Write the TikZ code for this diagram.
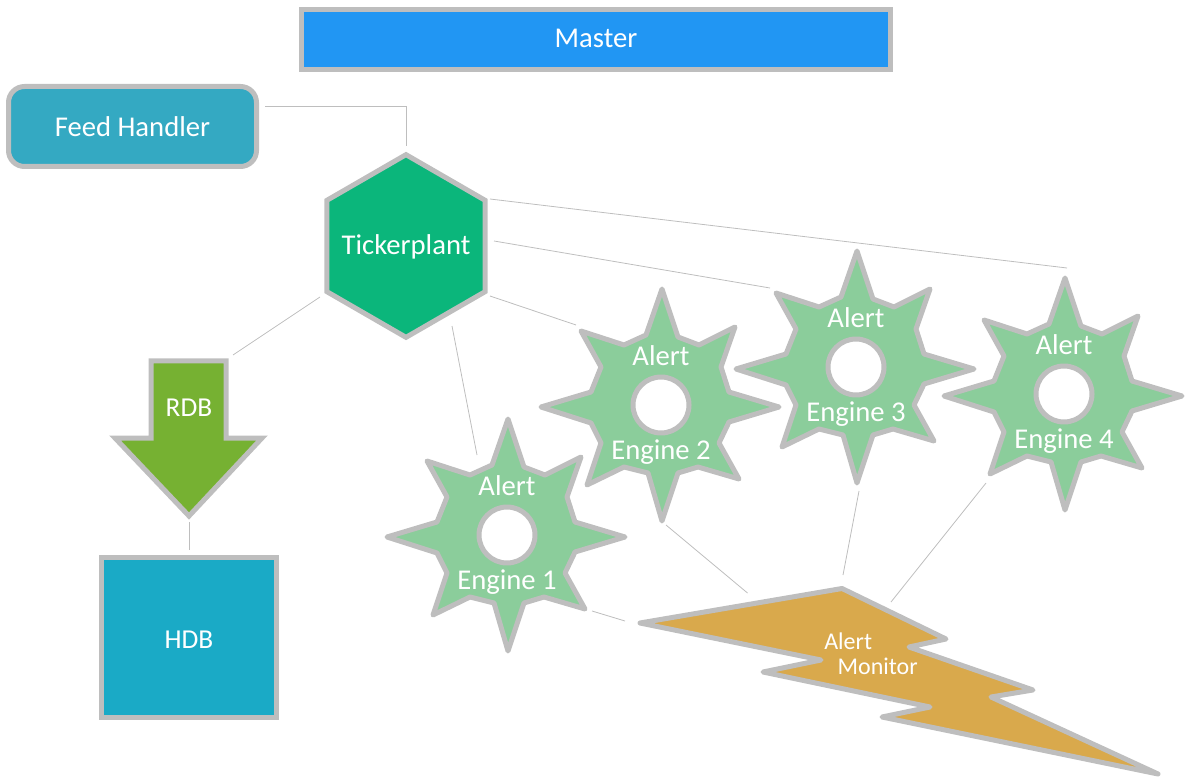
\documentclass[tikz,border=0pt]{standalone}
\usepackage{fontspec}
\setmainfont{Carlito}
\definecolor{edgegray}{RGB}{190, 190, 190}
\definecolor{masterblue}{RGB}{33, 150, 243}
\definecolor{feedblue}{RGB}{52, 169, 194}
\definecolor{tickgreen}{RGB}{11, 182, 123}
\definecolor{rdbgreen}{RGB}{118, 177, 50}
\definecolor{hdbblue}{RGB}{26, 170, 198}
\definecolor{gearsage}{RGB}{139, 205, 155}
\definecolor{boltgold}{RGB}{217, 169, 76}
\usetikzlibrary{shapes.geometric}
\tikzset{
  box/.style={draw=edgegray, line width=3.75pt, text=white, inner sep=0pt},
  blob/.style={draw=edgegray, line width=3.75pt, line join=round},
  label text/.style={text=white, inner sep=0pt},
  link/.style={draw=edgegray, line width=0.6pt}
}
\newcommand{\gearoutline}{(1,-116) -- (17,-68) -- (38,-60) -- (74,-78) -- (60,-38) -- (68,-13) -- (118,2) -- (68,17) -- (58,38) -- (78,74) -- (37,62) -- (17,68) -- (1,116) -- (-13,68) -- (-37,62) -- (-74,80) -- (-60,38) -- (-70,18) -- (-120,2) -- (-70,-13) -- (-60,-38) -- (-80,-74) -- (-37,-60) -- (-15,-70) -- cycle}

\begin{document}
\begin{tikzpicture}[x=0.75pt, y=-0.75pt]
  \useasboundingbox (0,0) rectangle (1188,780);

  % Master
  \node[box, fill=masterblue, minimum width=441.75pt, minimum height=45pt, font=\fontsize{21.5}{26}\selectfont] (master) at (596,39.5) {\raisebox{1.5pt}{Master}};

  % Feed handler
  \node[box, fill=feedblue, rounded corners=12pt, minimum width=186pt, minimum height=60pt, font=\fontsize{21.5}{26}\selectfont] (feed) at (132.5,126.5) {Feed Handler};

  % Tickerplant
  \node[box, fill=tickgreen, regular polygon, regular polygon sides=6, shape border rotate=30, minimum size=137pt, text height=16pt, text depth=2.5pt, font=\fontsize{21.5}{26}\selectfont] (tick) at (406,246) {\makebox[0pt]{Tickerplant}};

  % RDB arrow
  \draw[box, fill=rdbgreen] (151,361) -- (226,361) -- (226,438) -- (262,438) -- (189,516) -- (115,438) -- (151,438) -- cycle;
  \node[label text, font=\fontsize{20.5}{24}\selectfont] (rdb) at (189,408) {RDB};

  % HDB
  \node[box, fill=hdbblue, minimum width=131.25pt, minimum height=120pt, text height=17.5pt, text depth=0pt, font=\fontsize{20.5}{24}\selectfont] (hdb) at (189,637) {HDB};

  % Alert engines
  \foreach \name/\cx/\cy/\num in {gear1/507/535/1, gear2/661/405/2, gear3/856/367/3, gear4/1064/394/4} {
    \draw[blob, fill=gearsage, shift={(\cx,\cy)}] \gearoutline;
    \draw[blob, fill=white] (\cx,\cy) circle (28);
    \node[label text, align=center, font=\fontsize{21.5}{26}\selectfont] (\name) at (\cx,\cy) {Alert\\[44.5pt]Engine \num};
  }

  % Alert monitor
  \draw[blob, fill=boltgold] (640,623) -- (842,588.5) -- (946,639) -- (909,647) -- (1033,690) -- (991,697) -- (1158,774) -- (882,717) -- (930,707) -- (763,672) -- (821,660) -- cycle;
  \node[label text, align=left, font=\fontsize{18}{19}\selectfont] (monitor) at (871,654) {Alert\\\hspace*{10pt}Monitor};

  % Connectors
  \draw[link] ([shift={(132.5,-20.5)}]feed.center) -| ([shift={(0,-100)}]tick.center);
  \draw[link] ([shift={(84,-47)}]tick.center) -- ([shift={(3,-126)}]gear4.center);
  \draw[link] ([shift={(88,-5)}]tick.center) -- ([shift={(-86,-79)}]gear3.center);
  \draw[link] ([shift={(84,50)}]tick.center) -- ([shift={(-85,-80)}]gear2.center);
  \draw[link] ([shift={(46,80)}]tick.center) -- ([shift={(-30,-80)}]gear1.center);
  \draw[link] ([shift={(-86,51)}]tick.center) -- ([shift={(44,-53)}]rdb.center);
  \draw[link] ([shift={(0,114)}]rdb.center) -- ([shift={(0,-87)}]hdb.center);
  \draw[link] ([shift={(85,76)}]gear1.center) -- ([shift={(-246,-33)}]monitor.center);
  \draw[link] ([shift={(5,120)}]gear2.center) -- ([shift={(-123.5,-61)}]monitor.center);
  \draw[link] ([shift={(3,124)}]gear3.center) -- ([shift={(-28,-79)}]monitor.center);
  \draw[link] ([shift={(-78,89)}]gear4.center) -- ([shift={(20,-52)}]monitor.center);
\end{tikzpicture}
\end{document}
